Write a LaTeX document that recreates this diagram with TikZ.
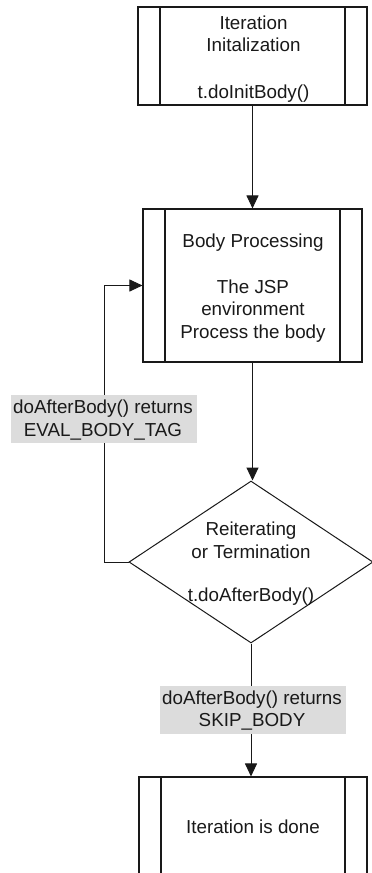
\documentclass[tikz,border=0pt]{standalone}
\usepackage{fontspec}
\setmainfont{Liberation Sans}
\usetikzlibrary{shapes.geometric,arrows.meta}
\definecolor{lblgray}{RGB}{220,220,220}
\definecolor{ink}{RGB}{25,25,25}
\begin{document}
\begin{tikzpicture}[x=1pt,y=-1pt,
  every node/.style={font=\fontsize{18.8}{22.5}\selectfont, align=center, inner sep=0pt, text=ink},
  predef/.style={draw=ink, line width=1.1pt, path picture={
    \draw[ink, line width=1.1pt] ([xshift=22pt]path picture bounding box.north west) -- ([xshift=22pt]path picture bounding box.south west);
    \draw[ink, line width=1.1pt] ([xshift=-22pt]path picture bounding box.north east) -- ([xshift=-22pt]path picture bounding box.south east);}},
  decision/.style={diamond, draw=ink, line width=1pt, inner sep=0pt, minimum width=244pt, minimum height=162pt},
  lbl/.style={fill=lblgray, minimum width=186pt, minimum height=48pt},
  arr/.style={draw=ink, line width=1pt, -{Triangle[length=13pt,width=12pt]}}]
\useasboundingbox (0,0) rectangle (372,873);

\node[predef, minimum width=229pt, minimum height=98pt] (init) at (252.5,56) {};
\node (inittext) at (253.5,59) {Iteration\\Initalization\\[24pt]t.doInitBody()};
\node[predef, minimum width=219pt, minimum height=153pt] (body) at (252.5,285.5) {};
\node (bodytext) at (253,288) {Body Processing\\[23pt]The JSP\\environment\\Process the body};
\node[decision] (dec) at (251,562) {};
\node (dectext) at (251,564) {Reiterating\\or Termination\\[21pt]t.doAfterBody()};
\node[predef, minimum width=228pt, minimum height=100pt] (done) at (253,827) {};
\node (donetext) at (253,826.5) {Iteration is done};

\coordinate (fb) at (104,0);

\draw[arr] (init) -- (body);
\draw[arr] (body.south) -- (body.south |- dec.north);
\draw[arr] (dec.west) -- (dec.west -| fb) -- (fb |- body.west) -- (body.west);
\draw[arr] (dec.south) -- (dec.south |- done.north);

\node[lbl] (evallbl) at (104,419) {};
\node (evaltext) at (103,420) {doAfterBody() returns\\EVAL\_BODY\_TAG};
\node[lbl] (skiplbl) at (253,709.5) {};
\node (skiptext) at (252,710.5) {doAfterBody() returns\\SKIP\_BODY};
\end{tikzpicture}
\end{document}
